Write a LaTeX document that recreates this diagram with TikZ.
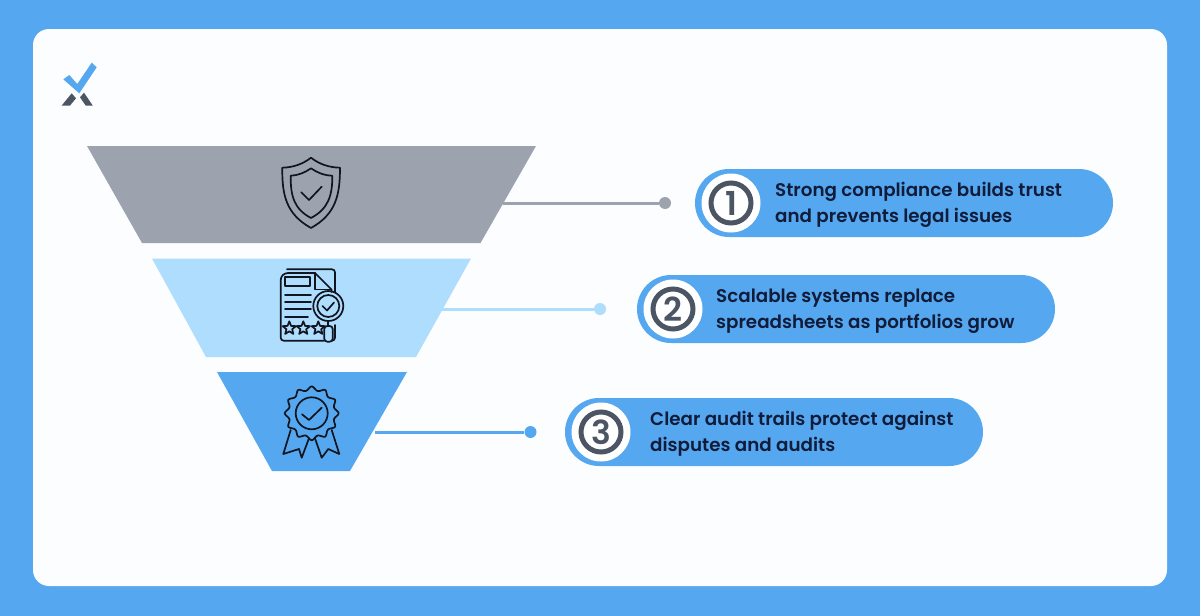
\documentclass[tikz,border=0pt]{standalone}
\usepackage{fontspec}
\setmainfont{Poppins}[BoldFont={Poppins SemiBold}]
\newfontfamily\digitfont{Poppins SemiBold}
\usetikzlibrary{shapes.geometric,calc}
\definecolor{bgblue}{HTML}{55A8F0}
\definecolor{card}{HTML}{FBFDFF}
\definecolor{fgray}{HTML}{9CA3AF}
\definecolor{flight}{HTML}{AEDDFD}
\definecolor{darkg}{HTML}{4B5563}
\definecolor{ink}{HTML}{111C3A}
\definecolor{iconink}{HTML}{10151F}
\tikzset{
  pill/.style={fill=bgblue,draw=none,rounded corners=34pt,minimum width=418pt,minimum height=68pt,inner sep=0pt},
  disc/.style={circle,fill=white,draw=none,minimum size=59pt,inner sep=0pt},
  ring/.style={circle,draw=darkg,line width=5pt,minimum size=40pt,inner sep=0pt,font=\fontsize{33}{33}\digitfont,text=darkg},
  msg/.style={anchor=west,align=left,font=\fontsize{18.3}{26}\selectfont\bfseries,text=ink,inner sep=0pt},
  dot/.style={circle,minimum size=12pt,inner sep=0pt,draw=none},
  lnk/.style={line width=3pt},
  icon/.style={draw=iconink,line width=1.7pt,line join=round,line cap=round,fill=none}
}
\begin{document}
\begin{tikzpicture}[x=1pt,y=-1pt]
\useasboundingbox (0,0) rectangle (1200,616);
\fill[bgblue] (0,0) rectangle (1200,616);
\fill[card,rounded corners=16pt] (33,29) rectangle (1167,586);
% logo
\fill[bgblue] (63.3,79.3)--(69.3,75)--(77.3,84)--(91.7,62.7)--(96.7,67.3)--(79.3,93.3)--cycle;
\fill[darkg] (61.7,105.5)--(71.7,93.3)--(76,98.3)--(70,105.5)--cycle;
\fill[darkg] (80,97.3)--(84,92.7)--(92.7,105.5)--(85.7,105.5)--cycle;
% funnel
\fill[fgray] (87,146)--(536,146)--(480.5,243)--(142,243)--cycle;
\fill[flight] (152,258.5)--(471,258.5)--(416,357)--(206,357)--cycle;
\fill[bgblue] (217,372)--(407,372)--(350,471)--(272,471)--cycle;
% connectors
\coordinate (a1) at (503,203);
\coordinate (a2) at (441,309);
\coordinate (a3) at (375,432);
\node[dot,fill=fgray] (d1) at (665,203) {};
\node[dot,fill=flight] (d2) at (600,309) {};
\node[dot,fill=bgblue] (d3) at (530.5,432) {};
\draw[lnk,fgray] (a1)--(d1);
\draw[lnk,flight] (a2)--(d2);
\draw[lnk,bgblue] (a3)--(d3);
% pills
\node[pill] (p1) at (904,203) {};
\node[pill] (p2) at (846,309) {};
\node[pill] (p3) at (774,432) {};
\node[disc] (c1) at (731,203) {};
\node[disc] (c2) at (673,309) {};
\node[disc] (c3) at (601,432) {};
\node[ring] (r1) at (c1) {1};
\node[ring] (r2) at (c2) {2};
\node[ring] (r3) at (c3) {3};
\node[msg] (t1) at (775,205) {Strong compliance builds trust\\and prevents legal issues};
\node[msg] (t2) at (716,311) {Scalable systems replace\\spreadsheets as portfolios grow};
\node[msg] (t3) at (650,434) {Clear audit trails protect against\\disputes and audits};
% shield icon
\draw[icon] (311,157.7) .. controls (303,164) and (293,167.5) .. (282.3,167.7)
  .. controls (282,195) and (286,214) .. (311,228)
  .. controls (336,214) and (340,195) .. (340,167.7)
  .. controls (329,167.5) and (319,164) .. (311,157.7) -- cycle;
\draw[icon] (311,168.3) .. controls (305,172.5) and (298,175.5) .. (290.7,175.7)
  .. controls (290.5,196) and (294,209) .. (311,218)
  .. controls (328,209) and (332.5,196) .. (332.3,175.7)
  .. controls (324,175.5) and (317,172.5) .. (311,168.3) -- cycle;
\draw[icon] (301.3,192.3)--(309,200)--(321.7,186.7);
% document icon
\begin{scope}[icon]
\draw[rounded corners=3pt] (287,269.3)--(335,269.3)--(335,292);
\draw[rounded corners=3pt] (335,325)--(335,340.7)--(332,340.7);
\draw[rounded corners=3pt] (315,273)--(285,273)--(280.7,277)--(280.7,340.7)--(324,340.7);
\draw (315,273)--(331.5,289.5)--(331.5,292);
\draw (315,273)--(315,289.5)--(331.5,289.5);
\draw (285,277.3) rectangle (310,286);
\draw (285,295)--(311,295) (285,301.7)--(311,301.7) (285,309.3)--(311,309.3) (285,316.7)--(308,316.7);
\draw (328.3,306) circle (15pt);
\draw (328.3,306) circle (11pt);
\draw (322.5,306)--(327,310.5)--(334,302.5);
\draw (328.3,321)--(328.3,326);
\draw[rounded corners=3pt] (324.3,326) rectangle (332.7,341.7);
\foreach \cx in {289.3,303.3,318.3}{
  \draw plot[samples at={0,1,...,10}] ({\cx+ifthenelse(mod(\x,2)==0,7,3)*sin(36*\x)},{328.3-ifthenelse(mod(\x,2)==0,7,3)*cos(36*\x)}) -- cycle;
}
\end{scope}
% badge icon
\begin{scope}[icon]
\draw plot[smooth cycle,tension=0.6,samples at={0,1,...,23}] ({311.7+(mod(\x,2)==0?27:23)*sin(15*\x)},{413.3-(mod(\x,2)==0?27:23)*cos(15*\x)});
\draw (311.7,413.3) circle (16pt);
\draw (302,414.3)--(309,420)--(321.7,407.7);
\draw (290.7,430)--(283.3,454)--(299,449)--(301.7,457.7)--(309,438.3);
\draw (315,438.3)--(321.7,457.7)--(328.3,449)--(339.3,454)--(331.7,430);
\end{scope}
\end{tikzpicture}
\end{document}
